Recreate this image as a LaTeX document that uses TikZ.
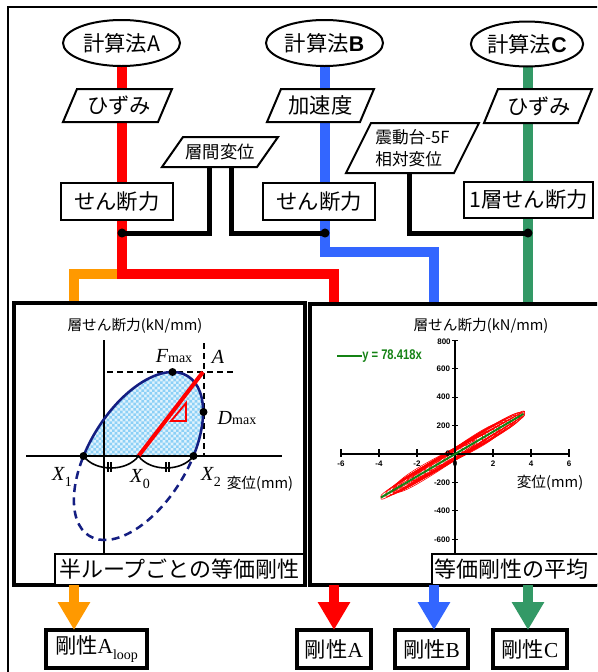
\documentclass[tikz,border=0pt]{standalone}
\usepackage{fontspec}
\setmainfont{Liberation Serif}
\setsansfont{Liberation Sans}
\newfontfamily\jp{Noto Sans CJK JP}
\usetikzlibrary{shapes.geometric,arrows.meta,patterns}
\pgfdeclarelayer{back}
\pgfsetlayers{back,main}
\def\pxu{0.75pt}
\definecolor{cRed}{RGB}{255,0,0}
\definecolor{cOrange}{RGB}{255,153,0}
\definecolor{cBlue}{RGB}{51,102,255}
\definecolor{cGreen}{RGB}{51,153,102}
\definecolor{cNavy}{RGB}{20,30,130}
\definecolor{cLeg}{RGB}{20,130,20}
\definecolor{cChk}{RGB}{120,200,245}
\pgfdeclarepatternformonly{finechk}{\pgfqpoint{-0.05pt}{-0.05pt}}{\pgfqpoint{4.05pt}{4.05pt}}{\pgfqpoint{4pt}{4pt}}{%
  \pgfpathrectangle{\pgfpointorigin}{\pgfqpoint{2.05pt}{2.05pt}}%
  \pgfpathrectangle{\pgfqpoint{2pt}{2pt}}{\pgfqpoint{2.05pt}{2.05pt}}%
  \pgfusepath{fill}}
\newcommand\fbig{\jp\fontsize{16}{19}\selectfont}
\newcommand\fmid{\jp\fontsize{12.5}{16.5}\selectfont}
\newcommand\fax{\jp\fontsize{11}{13}\selectfont}
\newcommand\fpan{\jp\fontsize{16.5}{19}\selectfont}
\newcommand\flab{\rmfamily\fontsize{15}{17}\selectfont}
\newcommand\fsub{\fontsize{10.5}{11}\selectfont}
\newcommand\ftick{\sffamily\bfseries\fontsize{6}{6.5}\selectfont}
\newcommand\myparal[5]{%
  \draw[line width=1.5pt,fill=white,line join=miter]
    ({#1-#3/2},{#2+#4/2}) -- ({#1+#3/2-#5},{#2+#4/2}) --
    ({#1+#3/2},{#2-#4/2}) -- ({#1-#3/2+#5},{#2-#4/2}) -- cycle;}
\begin{document}
\begin{tikzpicture}[x=0.75pt,y=-0.75pt,
  flow/.style={line width=7.5pt, line join=miter},
  blk/.style={line width=3.75pt, line join=miter},
  ell/.style={ellipse, draw, line width=1.5pt, fill=white, inner sep=0pt, outer sep=0pt, font=\fbig},
  ptext/.style={inner sep=0pt, outer sep=0pt, font=\fbig},
  box/.style={rectangle, draw, line width=2pt, fill=white, inner sep=0pt, outer sep=0pt, font=\fbig},
  obox/.style={rectangle, draw, line width=2.4pt, fill=white, inner sep=0pt, outer sep=0pt, minimum height=38*\pxu, font=\fbig},
  panel/.style={rectangle, draw, line width=2.4pt, inner sep=0pt, outer sep=0pt},
  lbl/.style={rectangle, draw, line width=1.2pt, fill=white, inner sep=0pt, outer sep=0pt, font=\fpan},
  arr/.style={line width=7.5pt, -{Triangle[width=23pt,length=21pt]}},
  tick/.style={font=\ftick, inner sep=0.5pt},
  axl/.style={font=\fax, inner sep=0pt},
  mlab/.style={font=\flab, inner sep=0pt},
]
\clip (0,0) rectangle (597,672);
\begin{pgfonlayer}{back}
\fill[white] (0,0) rectangle (597,672);
\end{pgfonlayer}
% outer frame
\draw[line width=1.5pt] (8,690) -- (8,7) -- (620,7);

% parallelogram shapes
\myparal{117.5}{105.5}{109}{33}{14}
\myparal{320.5}{105.5}{107}{33}{14}
\myparal{538}{106}{108}{34}{14}
\myparal{220}{152}{116}{30}{21}
\myparal{412.5}{148}{133}{50}{25}

% nodes
\node[ell, minimum width=117*\pxu, minimum height=46*\pxu] (ellA) at (121.5,43) {計算法A};
\node[ell, minimum width=117*\pxu, minimum height=46*\pxu] (ellB) at (324.5,43) {計算法{\sffamily\bfseries B}};
\node[ell, minimum width=110*\pxu, minimum height=45*\pxu] (ellC) at (527,44) {計算法{\sffamily\bfseries C}};

\node[ptext, minimum width=109*\pxu, minimum height=33*\pxu] (pA) at (119,105.5) {ひずみ};
\node[ptext, minimum width=107*\pxu, minimum height=33*\pxu] (pB) at (320.5,105.5) {加速度};
\node[ptext, minimum width=108*\pxu, minimum height=34*\pxu] (pC) at (539,106) {ひずみ};
\node[ptext, font=\jp\fontsize{13}{15}\selectfont, minimum width=116*\pxu, minimum height=30*\pxu] (pD) at (220,152) {層間変位};
\node[ptext, font=\fmid, align=left, minimum width=133*\pxu, minimum height=50*\pxu] (pE) at (412.5,148) {震動台-5F\\相対変位};

\node[box, minimum width=112*\pxu, minimum height=37*\pxu] (rA) at (117,201.5) {せん断力};
\node[box, minimum width=112*\pxu, minimum height=37*\pxu] (rB) at (319,201.5) {せん断力};
\node[box, minimum width=129*\pxu, minimum height=36*\pxu] (rC) at (528.5,200) {1層せん断力};

% panels
\node[panel, minimum width=291*\pxu, minimum height=282*\pxu] (panL) at (159.5,444) {};
\node[panel, minimum width=295*\pxu, minimum height=281*\pxu] (panR) at (457.5,444.5) {};

% junction coordinates
\coordinate (jO) at (74,274);
\coordinate (jR) at (334,274);
\coordinate (jB) at (434,252);
\coordinate (dA) at (122,233);
\coordinate (dB) at (325,233);
\coordinate (dC) at (528,233);

% coloured flows (behind the shapes)
\begin{pgfonlayer}{back}
\draw[flow, cOrange] (jO |- panL.north) -- (jO) -- (ellA.south |- jO);
\draw[flow, cRed] (ellA.south) -- (ellA.south |- jR) -- (jR) -- (jR |- panR.north);
\draw[flow, cBlue] (ellB.south) -- (ellB.south |- jB) -- (jB) -- (jB |- panR.north);
\draw[flow, cGreen] (ellC.south -| dC) -- (dC |- panR.north);
\end{pgfonlayer}

% black connectors
\draw[blk] ([xshift=-10.5*\pxu]pD.south) |- (dA);
\draw[blk] ([xshift=11*\pxu]pD.south) |- (dB);
\draw[blk] ([xshift=-3.5*\pxu]pE.south) |- (dC);
\foreach \p in {dA,dB,dC} \fill (\p) circle (3.4pt);

% ---------- left plot ----------
\coordinate (X0) at (138.5,456);
\coordinate (X1) at (83.5,456);
\coordinate (X2) at (193.5,456);
\coordinate (Apt) at (203,372);
\coordinate (Fm) at (172.5,372);
\coordinate (Dm) at (203.5,412);
\begin{scope}
  \clip (20,330) rectangle (290,456);
  \begin{scope}[shift={(X0)}, rotate=58.4]
    \fill[cChk!22] (0,0) ellipse (70.4pt and 36.9pt);
    \fill[pattern=finechk, pattern color=cChk!85] (0,0) ellipse (70.4pt and 36.9pt);
  \end{scope}
\end{scope}
\draw[line width=1.5pt] (104,340) -- (104,553);
\draw[line width=1.5pt] (26,456) -- (282,456);
\draw[line width=1pt, dash pattern=on 4.5pt off 3pt] (107,372) -- (233,372);
\draw[line width=1pt, dash pattern=on 4.5pt off 3pt] (204,343) -- (204,456);
\begin{scope}
  \clip (20,330) rectangle (290,456);
  \begin{scope}[shift={(X0)}, rotate=58.4]
    \draw[cNavy, line width=1.9pt] (0,0) ellipse (70.4pt and 36.9pt);
  \end{scope}
\end{scope}
\begin{scope}
  \clip (20,456) rectangle (290,570);
  \begin{scope}[shift={(X0)}, rotate=58.4]
    \draw[cNavy, line width=1.9pt, dash pattern=on 6pt off 4pt] (0,0) ellipse (70.4pt and 36.9pt);
  \end{scope}
\end{scope}
\draw[cRed, line width=3pt] (X0) -- (Apt);
\draw[cRed, line width=1.4pt, line join=miter] (171,421) -- (186,421) -- (186,403) -- cycle;
\draw[line width=1.2pt] (X1) .. controls (95,472) and (127,472) .. (X0) .. controls (150,472) and (182,472) .. (X2);
\draw[line width=0.9pt] (108,462) -- (108,472) (111,462) -- (111,472) (166,462) -- (166,472) (169,462) -- (169,472);
\foreach \p in {X1,X2,Fm,Dm} \fill (\p) circle (3pt);
\node[axl] (ylabL) at (135,326) {層せん断力(kN/mm)};
\node[axl] (xlabL) at (260,484) {変位(mm)};
\node[mlab] (lX1) at (62,477) {\textit{X}\raisebox{-0.3em}{\fsub 1}};
\node[mlab] (lX0) at (140,479) {\textit{X}\raisebox{-0.3em}{\fsub 0}};
\node[mlab] (lX2) at (211,477) {\textit{X}\raisebox{-0.3em}{\fsub 2}};
\node[mlab] (lF) at (174,356) {\textit{F}{\fsub max}};
\node[mlab] (lA) at (218,357) {\textit{A}};
\node[mlab] (lD) at (237,418) {\textit{D}{\fsub max}};
\node[lbl, minimum width=249*\pxu, minimum height=31*\pxu] (lbL) at (179.5,569.5) {半ループごとの等価剛性};

% ---------- right plot ----------
\node[axl] (ylabR) at (481,326) {層せん断力(kN/mm)};
\foreach \ca/\da/\wa/\oa in {0/3.65/38/0, -0.1/3.5/42/10, 0.05/3.3/34/-12, -0.05/3.1/40/8, 0/2.9/36/-10, 0.1/2.6/42/12, -0.1/2.4/34/-8, 0/2.2/40/10, 0.05/2.0/36/-12, -0.05/1.8/38/6, 0/1.6/34/-6, 0.05/1.4/32/10, -0.05/1.2/30/-10, 0/1.0/28/6, 0/0.8/26/-5, 0/0.6/24/4, 0/0.4/20/0, -0.15/3.75/28/-5, 0.1/3.4/32/15, -0.08/3.0/44/-15, 0.06/2.3/44/15, 0.12/3.55/36/-10, -0.12/2.7/40/5, 0/3.2/46/0, -0.05/1.5/42/0, 0.05/0.9/36/0}
  \draw[cRed, line width=0.45pt] plot[domain=0:360, samples=73]
    ({455+19*(\ca+\da*cos(\x))}, {454-0.1421*(78.4*(\ca+\da*cos(\x))+\wa*sin(\x)*pow(abs(sin(\x))+0.0001,-0.65)+\oa*sin(2*\x))});
\draw[line width=1.1pt] (455,340) -- (455,553);
\draw[line width=1.1pt] (341,454) -- (570,454);
\foreach \yy in {340.3,368.7,397.2,425.6,454,482.4,510.8,539.3}
  \draw[line width=0.8pt] (452,\yy) -- (458,\yy);
\node[tick] (t800) at (444,342) {8{}0{}0};
\node[tick, anchor=east] (t600) at (451,368.7) {600};
\node[tick, anchor=east] (t400) at (451,397.2) {400};
\node[tick, anchor=east] (t200) at (451,425.6) {200};
\node[tick, anchor=east] (t0) at (451,454) {0};
\node[tick, anchor=east] (tm200) at (451,482.4) {-200};
\node[tick, anchor=east] (tm400) at (451,510.8) {-400};
\node[tick, anchor=east] (tm600) at (451,539.3) {-600};
\foreach \v in {-6,-4,-2,0,2,4,6} {
  \draw[line width=0.8pt] ({455+19*\v},449) -- ({455+19*\v},457);
  \node[tick] at ({455+19*\v},464) {\v};
}
\draw[cLeg, line width=1.5pt] (381,497.5) -- (523.4,413.9);
\draw[cLeg, line width=1.2pt] (337,356) -- (362,356);
\node[anchor=west, text=cLeg, font=\sffamily\bfseries\fontsize{10.5}{11}\selectfont, inner sep=0pt] (leg) at (362,356) {\scalebox{0.8}[1]{y = 78.418x}};
\node[axl] (xlabR) at (550,483) {変位(mm)};
\node[lbl, anchor=west, minimum height=31*\pxu, text width=172*\pxu, inner xsep=1.5pt, align=left] (lbR) at (432,569.5) {等価剛性の平均};

% ---------- outputs ----------
\node[obox, minimum width=101*\pxu] (bL) at (96.5,649) {剛性{\rmfamily A\raisebox{-0.28em}{\fsub loop}}};
\node[obox, minimum width=74*\pxu] (bA) at (334,649) {剛性{\rmfamily A}};
\node[obox, minimum width=73*\pxu] (bB) at (431.5,649) {剛性{\rmfamily B}};
\node[obox, minimum width=74*\pxu] (bC) at (530,649) {剛性{\rmfamily C}};

\draw[arr, cOrange] (jO |- panL.south) -- (jO |- bL.north);
\draw[arr, cRed] (jR |- panR.south) -- (jR |- bA.north);
\draw[arr, cBlue] (jB |- panR.south) -- (jB |- bB.north);
\draw[arr, cGreen] (dC |- panR.south) -- (dC |- bC.north);
\end{tikzpicture}
\end{document}
